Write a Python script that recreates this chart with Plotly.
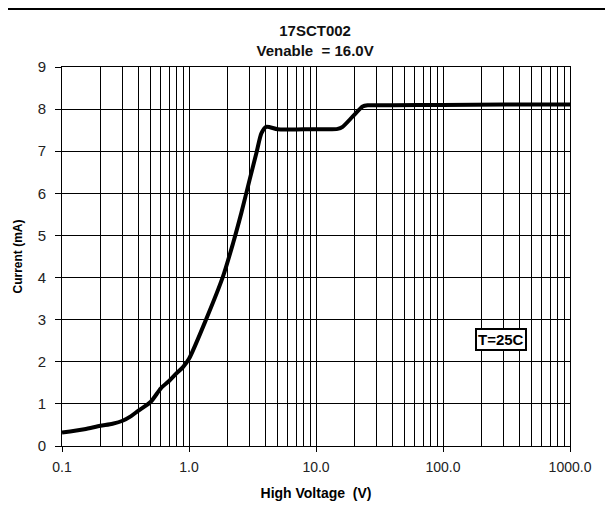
import math
import plotly.graph_objects as go

# Data
voltage = [0.1, 0.15, 0.2, 0.25, 0.3, 0.35, 0.4, 0.5, 0.6, 0.7, 0.8, 0.9, 1.0, 1.37, 1.85, 2.22, 2.58, 3.0, 3.39,
           3.72, 4.06, 5.0, 8.0, 12.0, 14.8, 16.2, 19.4, 23.3, 25.5, 40.0, 100.0, 300.0, 1000.0]
current = [0.32, 0.40, 0.48, 0.53, 0.60, 0.71, 0.84, 1.05, 1.37, 1.55, 1.73, 1.88, 2.07, 3.02, 4.02, 4.81, 5.53, 6.32, 6.95,
           7.43, 7.58, 7.52, 7.52, 7.52, 7.53, 7.58, 7.82, 8.06, 8.09, 8.09, 8.10, 8.11, 8.11]

x_major = [0.1, 1, 10, 100, 1000]
x_major_text = ["0.1", "1.0", "10.0", "100.0", "1000.0"]
x_minor = [m * d for d in [0.1, 1, 10, 100] for m in range(2, 10)]
y_ticks = [0, 1, 2, 3, 4, 5, 6, 7, 8, 9]

title_lines = ["17SCT002", "Venable\u00a0 = 16.0V"]
x_title = "High Voltage\u00a0 (V)"
y_title = "Current (mA)"
note_text = "T=25C"
note_pos = (285.0, 2.52)

FONT = "Liberation Sans, Arial, sans-serif"

fig = go.Figure()
fig.add_trace(go.Scatter(
    x=voltage, y=current, mode="lines",
    line=dict(color="black", width=4, shape="spline", smoothing=0.7),
    hoverinfo="skip", showlegend=False,
))

fig.update_layout(
    width=613, height=514,
    margin=dict(l=54, r=51, t=59, b=76, autoexpand=False),
    paper_bgcolor="white", plot_bgcolor="white",
    font=dict(family=FONT, color="black"),
    title=dict(text="<b>" + "<br>".join(title_lines) + "</b>",
               x=0.501, xanchor="center", y=1 - 28 / 514, yanchor="middle",
               font=dict(size=15, family=FONT, color="#111")),
    showlegend=False,
)

fig.update_xaxes(
    type="log", range=[-1, 3],
    tickvals=x_major, ticktext=x_major_text,
    tickfont=dict(size=14, color="#222"),
    ticks="outside", ticklen=5, tickcolor="black", tickwidth=1,
    ticklabelstandoff=3,
    showgrid=True, gridcolor="black", gridwidth=1,
    minor=dict(tickvals=x_minor, showgrid=True, gridcolor="black", gridwidth=1, ticks=""),
    showline=True, linecolor="black", linewidth=1, mirror=True,
    zeroline=False,
    title=dict(text="<b>" + x_title + "</b>", font=dict(size=14), standoff=14),
)
fig.update_yaxes(
    range=[0, 9], tickvals=y_ticks,
    tickfont=dict(size=15, color="#222"),
    ticks="outside", ticklen=6, tickcolor="black", tickwidth=1,
    ticklabelstandoff=6,
    showgrid=True, gridcolor="black", gridwidth=1,
    showline=True, linecolor="black", linewidth=1, mirror=True,
    zeroline=False,
    title=dict(text="<b>" + y_title + "</b>", font=dict(size=12), standoff=12),
)

fig.add_annotation(
    x=math.log10(note_pos[0]), y=note_pos[1], xref="x", yref="y",
    text="<b>" + note_text + "</b>", showarrow=False,
    font=dict(size=15, family=FONT, color="black"),
    bordercolor="black", borderwidth=2, borderpad=1, bgcolor="white",
)

# outer frame (top and right edges)
fig.add_shape(type="line", xref="paper", yref="paper",
              x0=-0.13, x1=1.0709, y0=1.153, y1=1.153, line=dict(color="black", width=2))
fig.add_shape(type="line", xref="paper", yref="paper",
              x0=1.0709, x1=1.0709, y0=1.153, y1=-0.25, line=dict(color="black", width=2))

fig.write_html("out.html")
